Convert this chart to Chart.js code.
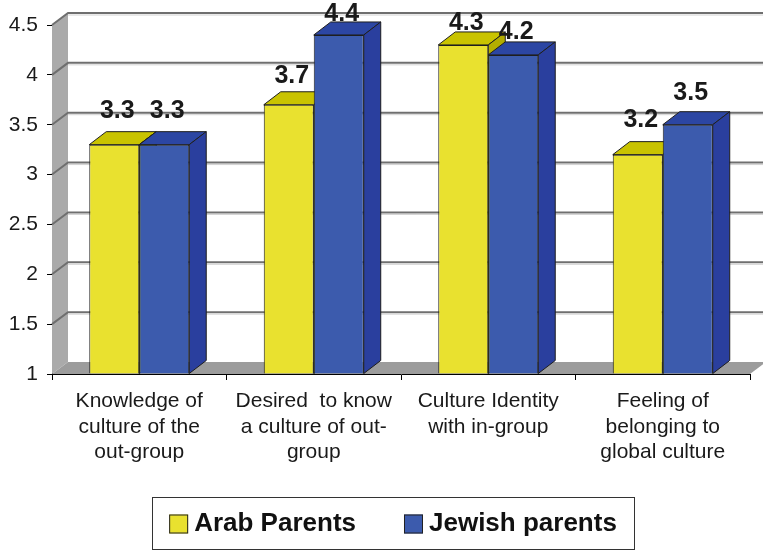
<!DOCTYPE html>
<html>
<head>
<meta charset="utf-8">
<script src="https://cdn.jsdelivr.net/npm/chart.js@4"></script>
<style>
  html, body { margin: 0; padding: 0; background: #fff; }
  #wrap { width: 763px; height: 550px; }
</style>
</head>
<body>
<div id="wrap"><canvas id="barChart" width="763" height="550"></canvas></div>
<script>
const categories = [
    ['Knowledge of', 'culture of the', 'out-group'],
    ['Desired  to know', 'a culture of out-', 'group'],
    ['Culture Identity', 'with in-group'],
    ['Feeling of', 'belonging to', 'global culture']
];
const seriesNames = ['Arab Parents', 'Jewish parents'];
const arabParents = [3.3, 3.7, 4.3, 3.2];
const jewishParents = [3.3, 4.4, 4.2, 3.5];
const yMin = 1, yMax = 4.5, yStep = 0.5;

const FONT = '"Liberation Sans", Arial, sans-serif';
// face colours: front, top, side
const faces = [
    { front: '#e9e12f', top: '#c9c300', side: '#b3ad00' },
    { front: '#3c5bad', top: '#2c46a3', side: '#2a3f9e' }
];
const WALL = { dx: 16, dy: -12 };
const BAR = { dx: 17, dy: -13 };

function poly(ctx, pts, fill, stroke) {
    ctx.beginPath();
    pts.forEach(([x, y], i) => i ? ctx.lineTo(x, y) : ctx.moveTo(x, y));
    ctx.closePath();
    if (fill) { ctx.fillStyle = fill; ctx.fill(); }
    if (stroke) { ctx.strokeStyle = stroke; ctx.lineWidth = 1; ctx.stroke(); }
}

const box3d = {
    id: 'box3d',
    beforeDatasetsDraw(chart) {
        const { ctx, chartArea: { left, right, top, bottom }, scales: { y } } = chart;
        ctx.save();
        // side wall and floor
        poly(ctx, [[left, bottom], [left, top], [left + WALL.dx, top + WALL.dy], [left + WALL.dx, bottom + WALL.dy]], '#aaaaaa');
        poly(ctx, [[left, bottom], [left + WALL.dx, bottom + WALL.dy], [right + WALL.dx, bottom + WALL.dy], [right, bottom]], '#9c9c9c');
        // gridlines running along the side wall and back wall
        y.ticks.forEach(t => {
            if (t.value === yMin) return;
            const py = y.getPixelForValue(t.value);
            ctx.beginPath();
            ctx.moveTo(left, py);
            ctx.lineTo(left + WALL.dx, py + WALL.dy);
            ctx.lineTo(right + WALL.dx + 20, py + WALL.dy);
            ctx.strokeStyle = '#6f6f6f';
            ctx.lineWidth = 2;
            ctx.stroke();
            ctx.beginPath();
            ctx.moveTo(left + WALL.dx, py + WALL.dy + 2);
            ctx.lineTo(right + WALL.dx + 20, py + WALL.dy + 2);
            ctx.strokeStyle = '#d2d2d2';
            ctx.lineWidth = 1;
            ctx.stroke();
        });
        // bar tops and right-hand sides
        chart.data.datasets.forEach((ds, i) => {
            const meta = chart.getDatasetMeta(i);
            meta.data.forEach(bar => {
                const { x, y: yt, base, width } = bar.getProps(['x', 'y', 'base', 'width'], true);
                const l = x - width / 2, r = x + width / 2;
                poly(ctx, [[l, yt], [r, yt], [r + BAR.dx, yt + BAR.dy], [l + BAR.dx, yt + BAR.dy]], faces[i].top, '#1e1e1e');
                poly(ctx, [[r, yt], [r + BAR.dx, yt + BAR.dy], [r + BAR.dx, base + BAR.dy], [r, base]], faces[i].side, '#1e1e1e');
            });
        });
        ctx.restore();
    },
    afterDatasetsDraw(chart) {
        const { ctx } = chart;
        ctx.save();
        ctx.font = 'bold 25px ' + FONT;
        ctx.fillStyle = '#1a1a1a';
        ctx.textAlign = 'center';
        ctx.textBaseline = 'middle';
        chart.data.datasets.forEach((ds, i) => {
            chart.getDatasetMeta(i).data.forEach((bar, j) => {
                const v = ds.data[j];
                // labels sit a little closer to the taller bars (perspective)
                const lift = 35 - (v - 3.2) * 12;
                ctx.fillText(v.toFixed(1), bar.x + 3, bar.y - lift);
            });
        });
        ctx.restore();
    },
    afterDraw(chart) {
        // boxed legend under the axis
        const { ctx } = chart;
        const bx = 152, by = 497, bw = 482, bh = 52;
        ctx.save();
        ctx.strokeStyle = '#333';
        ctx.lineWidth = 1;
        ctx.strokeRect(bx + 0.5, by + 0.5, bw, bh);
        ctx.font = 'bold 26px ' + FONT;
        ctx.textBaseline = 'middle';
        const sw = 19, gap = 6, spacing = 48;
        const widths = chart.data.datasets.map(ds => sw + gap + ctx.measureText(ds.label).width);
        let cx = bx + (bw - widths.reduce((a, b) => a + b, 0) - spacing) / 2;
        const cy = by + bh / 2 + 1;
        chart.data.datasets.forEach((ds, i) => {
            ctx.fillStyle = ds.backgroundColor;
            ctx.fillRect(cx, cy - sw / 2, sw, sw);
            ctx.strokeStyle = '#222';
            ctx.strokeRect(cx + 0.5, cy - sw / 2 + 0.5, sw - 1, sw - 1);
            ctx.fillStyle = '#111';
            ctx.fillText(ds.label, cx + sw + gap, cy);
            cx += widths[i] + spacing;
        });
        ctx.restore();
    }
};

new Chart(document.getElementById('barChart').getContext('2d'), {
    type: 'bar',
    data: {
        labels: categories,
        datasets: [
            { label: seriesNames[0], data: arabParents, backgroundColor: faces[0].front, borderColor: '#1e1e1e', borderWidth: 1, base: yMin },
            { label: seriesNames[1], data: jewishParents, backgroundColor: faces[1].front, borderColor: '#1e1e1e', borderWidth: 1, base: yMin }
        ]
    },
    options: {
        responsive: false,
        animation: false,
        devicePixelRatio: 1,
        events: [],
        layout: { padding: { left: 0, right: 13, top: 25, bottom: 0 } },
        datasets: {
            bar: { categoryPercentage: 0.573, barPercentage: 1 }
        },
        scales: {
            x: {
                z: 1,
                afterFit: s => { s.height = 176; },
                border: { color: '#000', width: 1 },
                grid: { drawOnChartArea: false, drawTicks: true, tickLength: 6, color: '#000', offset: true },
                ticks: {
                    color: '#1a1a1a',
                    padding: 9,
                    maxRotation: 0,
                    autoSkip: false,
                    font: { family: FONT, size: 21, lineHeight: 1.2 }
                }
            },
            y: {
                z: 1,
                min: yMin,
                max: yMax,
                afterFit: s => { s.width = 52; },
                border: { color: '#000', width: 1 },
                grid: { drawOnChartArea: false, drawTicks: true, tickLength: 5, color: '#000' },
                ticks: {
                    stepSize: yStep,
                    color: '#1a1a1a',
                    padding: 9,
                    font: { family: FONT, size: 21 },
                    callback: v => String(+v.toFixed(1))
                }
            }
        },
        plugins: {
            legend: { display: false },
            tooltip: { enabled: false }
        }
    },
    plugins: [box3d]
});
</script>
</body>
</html>
